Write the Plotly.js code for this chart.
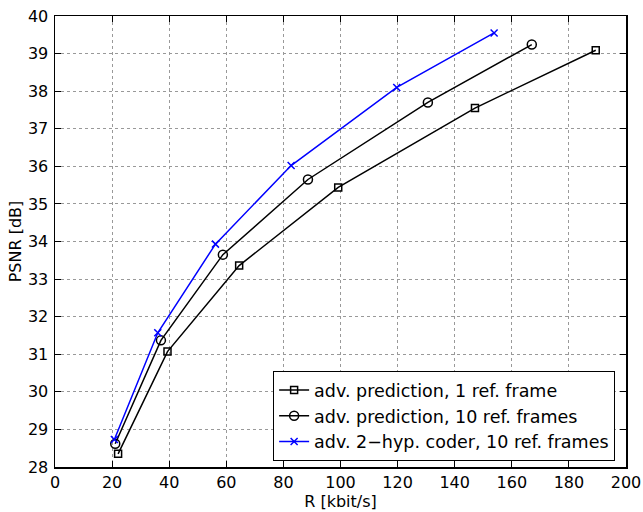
<!DOCTYPE html>
<html>
<head>
<meta charset="utf-8">
<script src="https://cdn.plot.ly/plotly-3.0.1.min.js"></script>
<style>html,body{margin:0;padding:0;background:#fff;}</style>
</head>
<body>
<div id="chart" style="width:643px;height:512px;"></div>
<script>
const rate1 = [22.1, 39.4, 64.5, 99.2, 147.1, 189.4];
const psnr1 = [28.35, 31.07, 33.36, 35.44, 37.55, 39.09];
const rate10 = [21.1, 37.1, 58.8, 88.6, 130.6, 167.0];
const psnr10 = [28.62, 31.37, 33.65, 35.65, 37.70, 39.24];
const rate2h = [20.8, 36.0, 56.2, 82.7, 119.7, 153.8];
const psnr2h = [28.73, 31.57, 33.93, 36.02, 38.10, 39.55];
const names = ['adv. prediction, 1 ref. frame', 'adv. prediction, 10 ref. frames', 'adv. 2\u2212hyp. coder, 10 ref. frames'];
const xTicks = [0, 20, 40, 60, 80, 100, 120, 140, 160, 180, 200];
const yTicks = [28, 29, 30, 31, 32, 33, 34, 35, 36, 37, 38, 39, 40];

const fam = 'DejaVu Sans, Verdana, sans-serif';
const font = {family: fam, size: 16, color: '#000'};

const traces = [
  {x: rate1, y: psnr1, name: names[0], mode: 'lines+markers', line: {color: '#000', width: 1.5},
   marker: {symbol: 'square-open', size: 7, color: '#000', line: {width: 1.5}}},
  {x: rate10, y: psnr10, name: names[1], mode: 'lines+markers', line: {color: '#000', width: 1.5},
   marker: {symbol: 'circle-open', size: 9, color: '#000', line: {width: 1.5}}},
  {x: rate2h, y: psnr2h, name: names[2], mode: 'lines+markers', line: {color: '#0000ff', width: 1.5},
   marker: {symbol: 'x-thin-open', size: 7, color: '#0000ff', line: {width: 1.5, color: '#0000ff'}}}
];

const axisCommon = {
  showline: true, linecolor: '#000', linewidth: 1.5, mirror: 'ticks',
  ticks: 'inside', ticklen: 6, tickcolor: '#000', tickwidth: 1,
  showgrid: true, gridcolor: '#999', griddash: 'dot', gridwidth: 1,
  zeroline: false, tickfont: font
};

const layout = {
  width: 643, height: 512,
  margin: {l: 55, r: 17, t: 16, b: 45},
  paper_bgcolor: '#fff', plot_bgcolor: '#fff',
  font: font,
  showlegend: true,
  legend: {x: 0.382, y: 0.013, xanchor: 'left', yanchor: 'bottom', bgcolor: '#fff',
    bordercolor: '#000', borderwidth: 1, font: {family: fam, size: 17.5, color: '#000'},
    tracegroupgap: 0, itemwidth: 30},
  xaxis: Object.assign({}, axisCommon, {range: [0, 200], tickvals: xTicks, ticktext: xTicks.map(String),
    title: {text: 'R [kbit/s]', font: font, standoff: 0}}),
  yaxis: Object.assign({}, axisCommon, {range: [28, 40], tickvals: yTicks, ticktext: yTicks.map(String),
    ticklabelstandoff: 2,
    title: {text: 'PSNR [dB]', font: font, standoff: 2}})
};

Plotly.newPlot('chart', traces, layout, {displayModeBar: false, staticPlot: true});
</script>
</body>
</html>
